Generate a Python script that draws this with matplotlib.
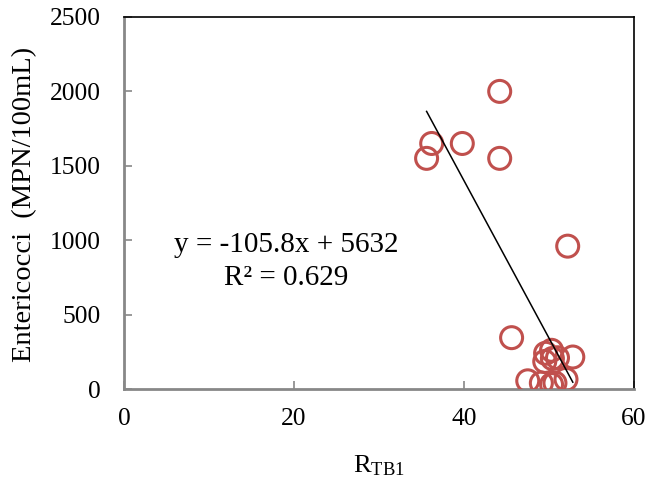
import matplotlib
matplotlib.use("Agg")
import matplotlib.pyplot as plt
import numpy as np

plt.rcParams['font.family'] = ['Liberation Serif', 'DejaVu Serif']
plt.rcParams['mathtext.fontset'] = 'custom'
plt.rcParams['mathtext.rm'] = 'Liberation Serif'
plt.rcParams['mathtext.it'] = 'Liberation Serif:italic'

r_tb1 = [35.6, 36.2, 39.8, 44.2, 44.2, 52.2, 45.6, 49.6, 50.3, 52.8,
         49.5, 50.4, 51.0, 47.5, 49.1, 50.7, 52.0, 50.3]
entericocci = [1550, 1650, 1650, 2000, 1550, 960, 345, 240, 260, 215,
               185, 205, 210, 55, 40, 40, 65, 30]
slope = -105.8
intercept = 5632
r2 = 0.629
x_ticks = [0, 20, 40, 60]
y_ticks = [0, 500, 1000, 1500, 2000, 2500]

W, H = 650, 482
fig = plt.figure(figsize=(W/100, H/100), dpi=100)
ax = fig.add_axes([124/W, 1-389/H, (634-124)/W, (389-17)/H])

ax.scatter(r_tb1, entericocci, s=250, facecolors='none', edgecolors='#C0504D',
           linewidths=2.2, zorder=3)
xs = np.array([min(r_tb1), max(r_tb1)])
ax.plot(xs, slope*xs + intercept, color='black', linewidth=1.1, zorder=4)

ax.set_xlim(0, 60)
ax.set_ylim(0, 2500)
ax.set_xticks(x_ticks)
ax.set_yticks(y_ticks)
ax.tick_params(direction='in', length=5.5, width=1.2, color='#888888',
               labelsize=18.4)
ax.tick_params(axis='x', pad=14)
ax.tick_params(axis='y', pad=16.5)
for side in ['left', 'bottom']:
    ax.spines[side].set_color('#888888')
    ax.spines[side].set_linewidth(2)
for side in ['top', 'right']:
    ax.spines[side].set_color('black')
    ax.spines[side].set_linewidth(1.2)

fig.text(379/W, 1-472/H, r'R$_{\mathrm{TB1}}$', fontsize=19,
         ha='center', va='baseline')
fig.text(25/W, 1-204.5/H, 'Entericocci  (MPN/100mL)', fontsize=20.5,
         rotation=90, ha='center', va='center')

fig.text(286/W, 1-251.7/H, f"y = {slope}x + {intercept}", fontsize=21,
         ha='center', va='baseline')
fig.text(286/W, 1-285/H, f"R² = {r2}", fontsize=21,
         ha='center', va='baseline')

fig.savefig('out.png', dpi=100)
